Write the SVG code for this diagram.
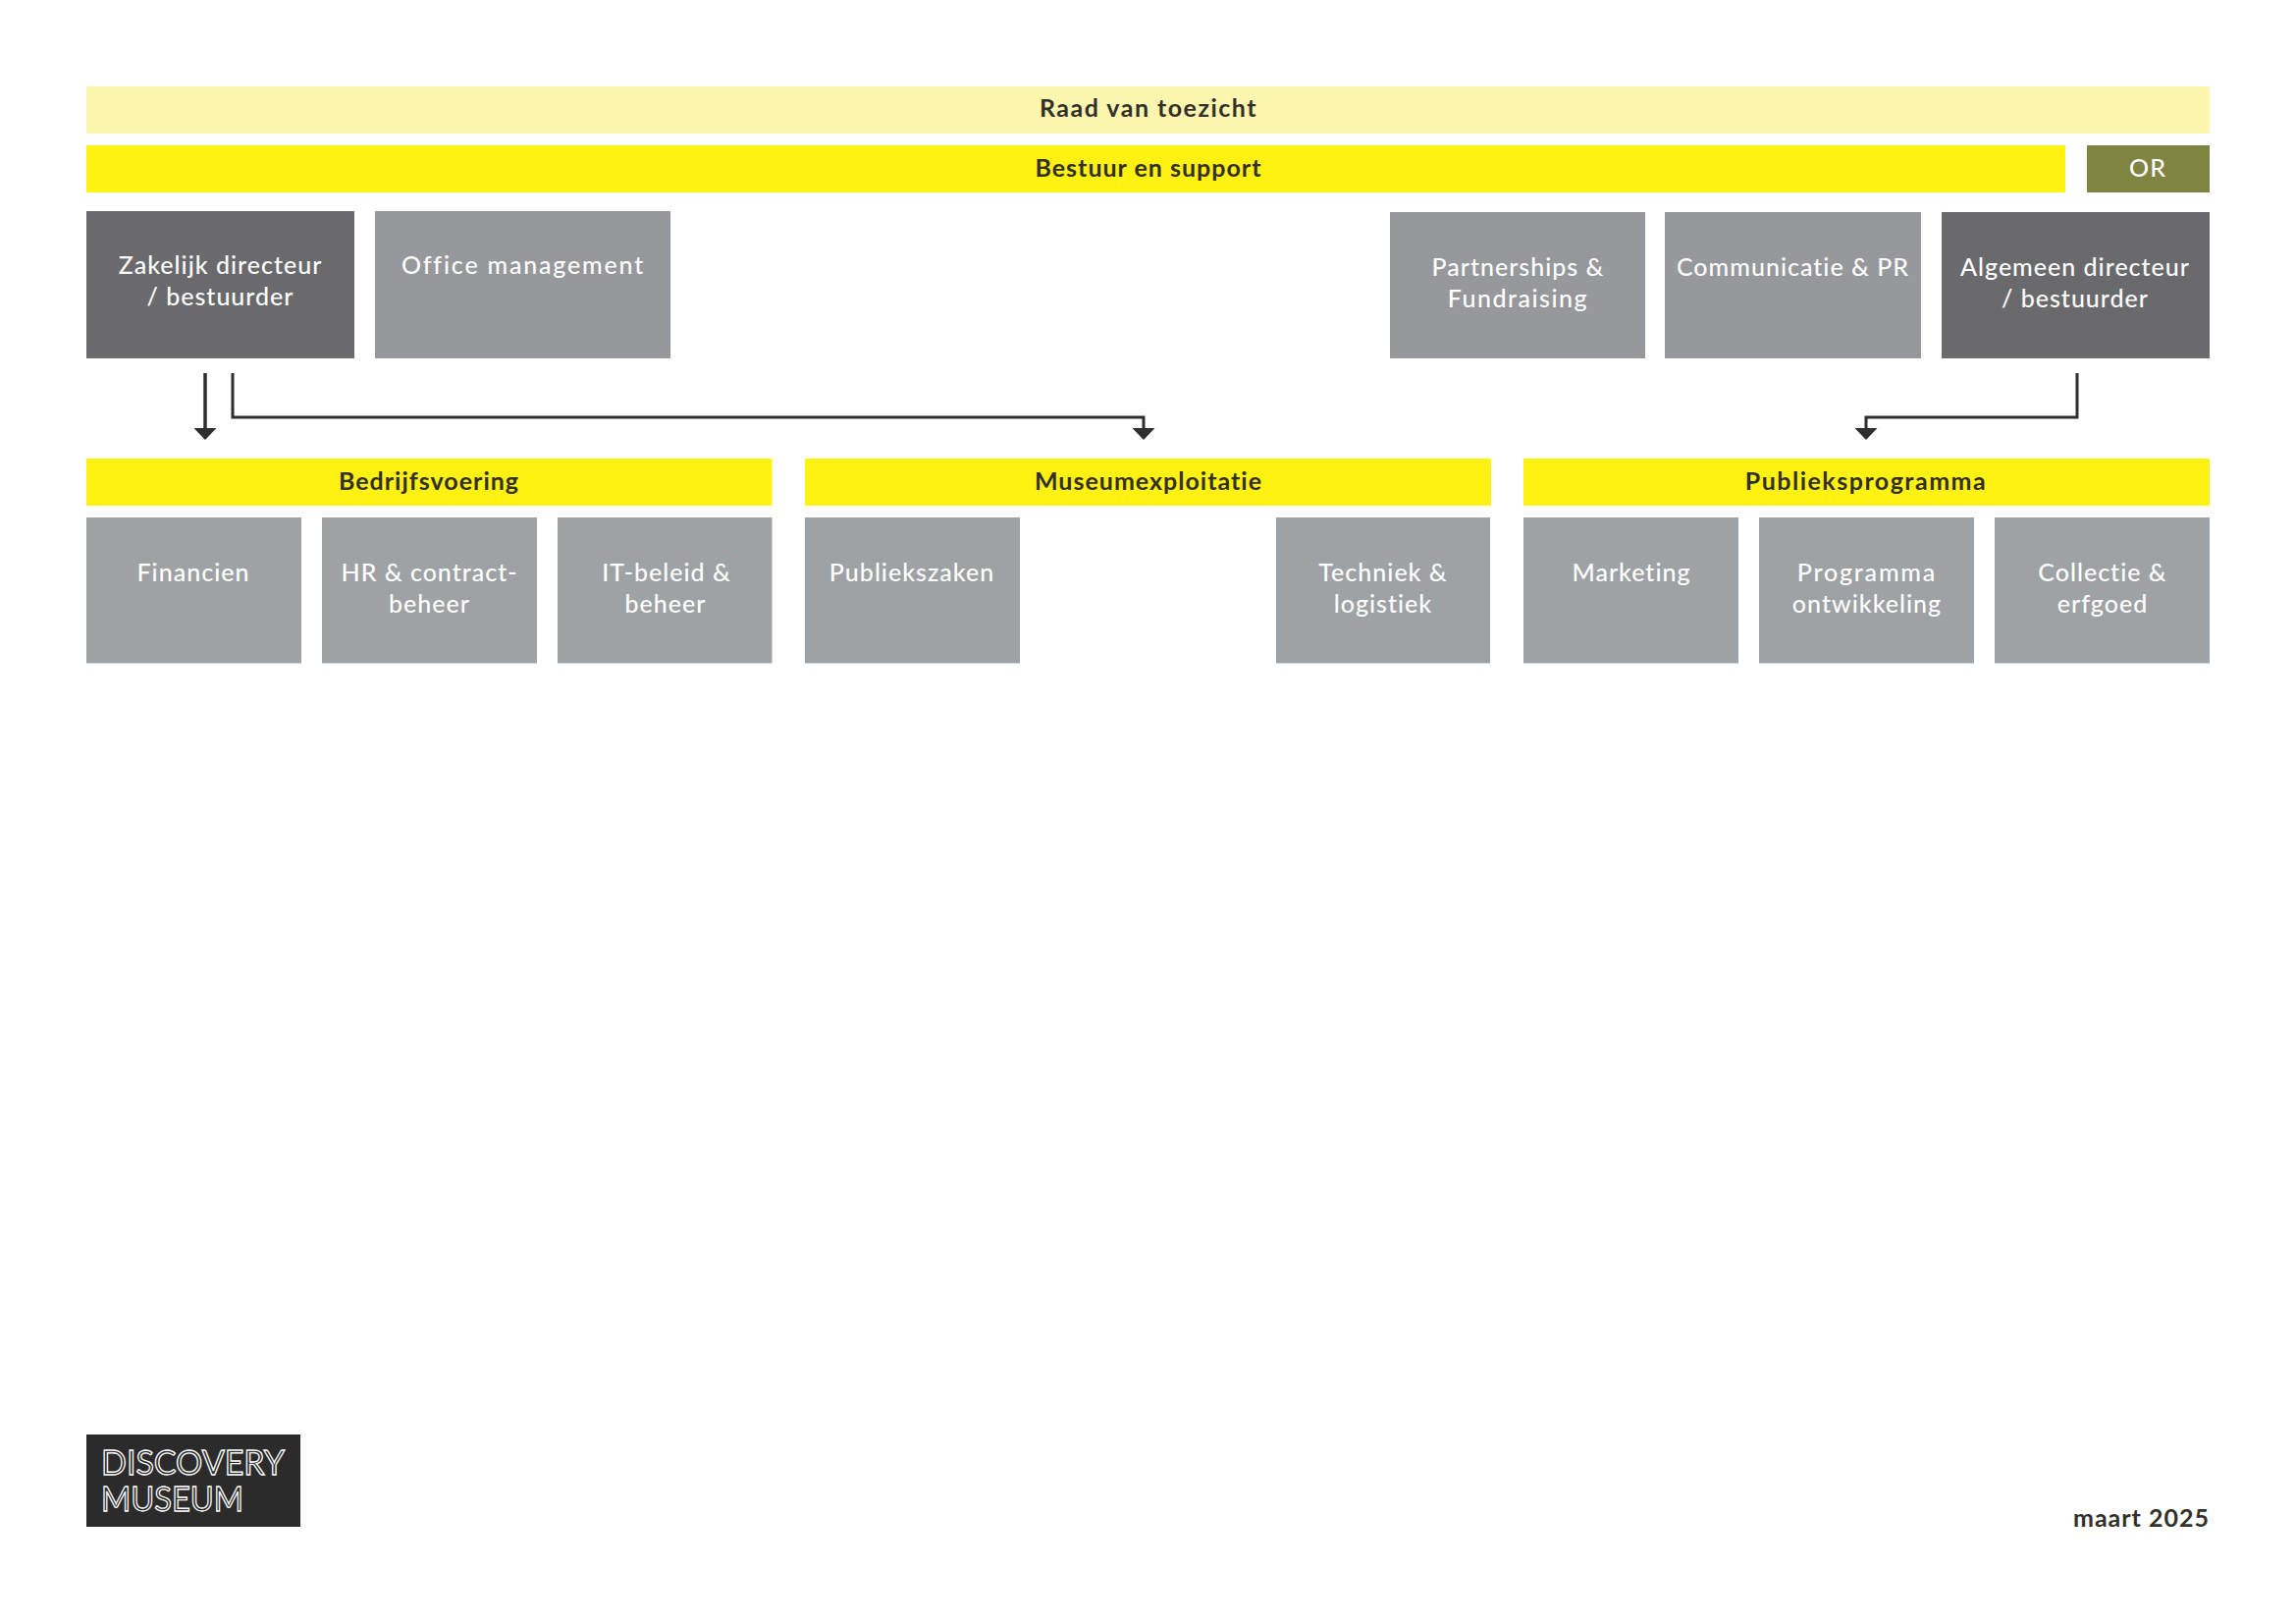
<svg xmlns="http://www.w3.org/2000/svg" width="2339" height="1654" viewBox="0 0 2339 1654">
<style>
text{font-family:Lato,"Noto Sans","Liberation Sans",sans-serif;font-size:25px;text-anchor:middle;letter-spacing:1px}
.w{fill:#fff;font-weight:500}
.k{fill:#33302a;font-weight:700}
.wide{letter-spacing:1.500px}
.wider{letter-spacing:1.800px}
.pale{fill:#fdf6ae}.yel{fill:#fff212}.or{fill:#7f8440}.dark{fill:#6a6a6d}.mid{fill:#96989b}.sub{fill:#9fa2a5}
.c{fill:none;stroke:#2e2e2e;stroke-width:3}
.logo{fill:#2b2b2b;stroke:#fff;stroke-width:1.300;font-size:34.500px;text-anchor:start;font-weight:400;letter-spacing:0}
</style>
<defs><marker id="b" markerUnits="userSpaceOnUse" markerWidth="23" markerHeight="12" refX="11.500" refY="4" viewBox="0 0 23 12"><path d="M0 0H23L11.500 12Z" fill="#2e2e2e"/></marker></defs>
<g id="raad"><rect class="pale" x="88" y="88" width="2163" height="48"/><text class="k wide" x="1170" y="119">Raad van toezicht</text></g>
<g id="bestuur"><rect class="yel" x="88" y="148" width="2016" height="48"/><text class="k" x="1170" y="179.500">Bestuur en support</text></g>
<g id="or"><rect class="or" x="2126" y="148" width="125" height="48"/><text class="w" x="2188" y="179.500">OR</text></g>
<g id="zakelijk"><rect class="dark" x="88" y="215" width="273" height="150"/><text class="w" x="224.500" y="278.500">Zakelijk directeur</text><text class="w" x="224.500" y="310.500">/ bestuurder</text></g>
<g id="office"><rect class="mid" x="382" y="215" width="301" height="150"/><text class="w wider" x="533" y="278.500">Office management</text></g>
<g id="partnerships"><rect class="mid" x="1416" y="216" width="260" height="149"/><text class="w" x="1546.500" y="280.500">Partnerships &amp;</text><text class="w wide" x="1546.500" y="313">Fundraising</text></g>
<g id="communicatie"><rect class="mid" x="1696" y="216" width="261" height="149"/><text class="w" x="1826.500" y="280.500">Communicatie &amp; PR</text></g>
<g id="algemeen"><rect class="dark" x="1978" y="216" width="273" height="149"/><text class="w" x="2114" y="280.500">Algemeen directeur</text><text class="w" x="2114" y="313">/ bestuurder</text></g>
<g id="connectors">
<path class="c" marker-end="url(#b)" d="M209 380V440" style="stroke-width:3.500"/>
<path class="c" marker-end="url(#b)" d="M237 380V425H1165V440"/>
<path class="c" marker-end="url(#b)" d="M2116 380V425H1901V440"/>
</g>
<g id="bedrijfsvoering"><rect class="yel" x="88" y="467" width="698.500" height="48"/><text class="k" x="437" y="499">Bedrijfsvoering</text></g>
<g id="museumexploitatie"><rect class="yel" x="820" y="467" width="699" height="48"/><text class="k" x="1170" y="499">Museumexploitatie</text></g>
<g id="publieksprogramma"><rect class="yel" x="1552" y="467" width="699" height="48"/><text class="k wide" x="1901" y="499">Publieksprogramma</text></g>
<g id="financien"><rect class="sub" x="88" y="527" width="219" height="148.500"/><text class="w" x="197" y="592">Financien</text></g>
<g id="hr"><rect class="sub" x="328" y="527" width="219" height="148.500"/><text class="w" x="437.500" y="592">HR &amp; contract-</text><text class="w" x="437.500" y="624">beheer</text></g>
<g id="it"><rect class="sub" x="568" y="527" width="218.500" height="148.500"/><text class="w" x="679" y="592">IT-beleid &amp;</text><text class="w" x="678" y="624">beheer</text></g>
<g id="publiekszaken"><rect class="sub" x="820" y="527" width="219" height="148.500"/><text class="w" x="929" y="592">Publiekszaken</text></g>
<g id="techniek"><rect class="sub" x="1300" y="527" width="218" height="148.500"/><text class="w" x="1409" y="592">Techniek &amp;</text><text class="w" x="1409" y="624">logistiek</text></g>
<g id="marketing"><rect class="sub" x="1552" y="527" width="219" height="148.500"/><text class="w" x="1662" y="592">Marketing</text></g>
<g id="programma"><rect class="sub" x="1792" y="527" width="219" height="148.500"/><text class="w wider" x="1902" y="592">Programma</text><text class="w" x="1902" y="624">ontwikkeling</text></g>
<g id="collectie"><rect class="sub" x="2032" y="527" width="219" height="148.500"/><text class="w" x="2142" y="592">Collectie &amp;</text><text class="w" x="2142" y="624">erfgoed</text></g>
<g id="logo"><rect fill="#2b2b2b" x="88" y="1461" width="218" height="94"/><text class="logo" x="103" y="1502" textLength="187" lengthAdjust="spacingAndGlyphs">DISCOVERY</text><text class="logo" x="103" y="1539" textLength="145" lengthAdjust="spacingAndGlyphs">MUSEUM</text></g>
<g id="date"><text class="k" style="text-anchor:end" x="2251" y="1555">maart 2025</text></g>
</svg>
